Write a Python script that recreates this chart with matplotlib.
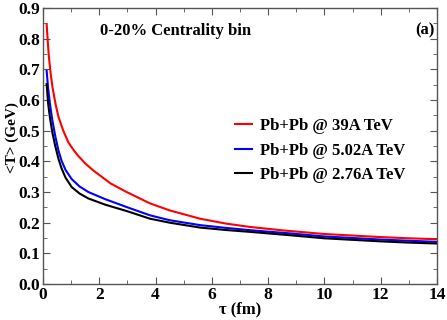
import numpy as np
import matplotlib
matplotlib.use("Agg")
import matplotlib.pyplot as plt
from matplotlib.ticker import MultipleLocator

# values
tau_red = [0.13, 0.17, 0.21, 0.28, 0.34, 0.45, 0.55, 0.72, 0.9, 1.1, 1.25, 1.5, 1.79,
           2.4, 2.97, 3.8, 4.5, 5.58, 6.5, 7.36, 8.5, 9.13, 10, 11, 12, 13, 14]
T_red = [0.847, 0.79, 0.74, 0.68, 0.64, 0.585, 0.545, 0.50, 0.462, 0.435, 0.418, 0.393,
         0.37, 0.328, 0.30, 0.263, 0.24, 0.213, 0.197, 0.186, 0.175, 0.170, 0.163,
         0.158, 0.153, 0.149, 0.146]

tau_blue = [0.13, 0.18, 0.25, 0.33, 0.43, 0.55, 0.66, 0.8, 1.02, 1.3, 1.61, 2.2, 2.97,
            3.8, 4.5, 5.58, 6.5, 7.36, 8.78, 10, 11, 12, 13, 14]
T_blue = [0.695, 0.64, 0.585, 0.535, 0.485, 0.435, 0.402, 0.372, 0.342, 0.318, 0.30,
          0.277, 0.251, 0.224, 0.208, 0.192, 0.183, 0.1755, 0.165, 0.155, 0.150, 0.145,
          0.141, 0.1375]

tau_black = [0.13, 0.18, 0.25, 0.33, 0.43, 0.55, 0.66, 0.8, 1.02, 1.3, 1.61, 2.2, 2.97,
             3.8, 4.5, 5.58, 6.5, 7.36, 8.78, 10, 11, 12, 13, 14]
T_black = [0.652, 0.59, 0.54, 0.495, 0.452, 0.408, 0.377, 0.347, 0.316, 0.295, 0.279,
           0.259, 0.238, 0.213, 0.200, 0.184, 0.176, 0.170, 0.159, 0.149, 0.144, 0.139,
           0.135, 0.132]

labels = ["Pb+Pb @ 39A TeV", "Pb+Pb @ 5.02A TeV", "Pb+Pb @ 2.76A TeV"]

plt.rcParams['font.family'] = ['Liberation Serif', 'DejaVu Serif']
plt.rcParams['font.weight'] = 'bold'

fig = plt.figure(figsize=(4.47, 3.2), dpi=100)
ax = fig.add_axes([0.0962, 0.1125, 0.8814, 0.8625])

ax.plot(tau_red, T_red, color='#ff0000', lw=1.5, label=labels[0])
ax.plot(tau_blue, T_blue, color='#0000ff', lw=1.5, label=labels[1])
ax.plot(tau_black, T_black, color='black', lw=1.5, label=labels[2])

ax.set_xlim(0, 14)
ax.set_ylim(0, 0.9)
ax.xaxis.set_major_locator(MultipleLocator(2))
ax.xaxis.set_minor_locator(MultipleLocator(1))
ax.yaxis.set_major_locator(MultipleLocator(0.1))
ax.yaxis.set_minor_locator(MultipleLocator(0.05))
ax.yaxis.set_major_formatter(plt.FormatStrFormatter('%.1f'))
ax.tick_params(which='both', direction='in', top=True, right=True, color='#555555')
ax.tick_params(which='major', length=5, labelsize=12.5, pad=2)
ax.tick_params(which='minor', length=3)
for s in ax.spines.values():
    s.set_color('#555555')
    s.set_linewidth(1.0)
for lab in ax.get_xticklabels() + ax.get_yticklabels():
    lab.set_fontweight('bold')

ax.set_xlabel("τ (fm)", fontsize=12, fontweight='bold', labelpad=-1)
ax.set_ylabel("<T> (GeV)", fontsize=11, fontweight='bold')
ax.yaxis.set_label_coords(-0.062, 0.53)

ax.text(0.145, 0.918, "0-20% Centrality bin", transform=ax.transAxes, fontsize=12,
        fontweight='bold', va='center')
ax.text(0.995, 0.918, "(a)", transform=ax.transAxes, fontsize=12,
        fontweight='bold', va='center', ha='right')

leg = ax.legend(loc='upper left', bbox_to_anchor=(0.45, 0.655), frameon=False,
                handlelength=1.0, handletextpad=0.5, labelspacing=0.5,
                prop={'weight': 'bold', 'size': 12})

fig.savefig("out.png", dpi=100)
